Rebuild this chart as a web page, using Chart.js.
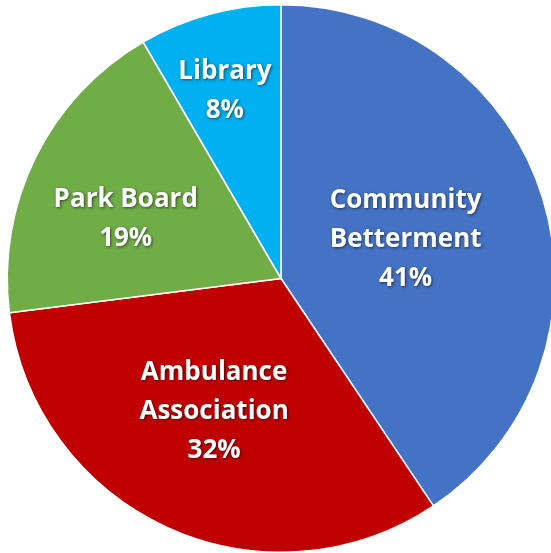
<!DOCTYPE html>
<html>
<head>
<meta charset="utf-8">
<script src="https://cdn.jsdelivr.net/npm/chart.js@4/dist/chart.umd.min.js"></script>
<style>
  html, body { margin: 0; padding: 0; background: #fff; overflow: hidden; }
  #wrap { position: absolute; left: 0; top: 0; width: 562px; height: 553px; }
</style>
</head>
<body>
<div id="wrap"><canvas id="chart"></canvas></div>
<script>
// slices, clockwise from 12 o'clock (shares read from the slice edges, labels are rounded)
const categories = [['Community', 'Betterment'], ['Ambulance', 'Association'], ['Park Board'], ['Library']];
const shares = [40.6, 32.4, 18.6, 8.4];
const sliceColors = ['#4472C4', '#C00000', '#70AD47', '#00B0F0'];

// where Excel put each label: fraction of radius and a small angle nudge (deg)
const labelRadius = [0.48, 0.535, 0.61, 0.725];
const labelNudge = [-1.6, 2.7, -4.7, -1.3];

const sliceLabels = {
    id: 'sliceLabels',
    afterDatasetsDraw(chart) {
        const ctx = chart.ctx;
        const meta = chart.getDatasetMeta(0);
        ctx.save();
        ctx.font = 'bold 26px "Open Sans"';
        ctx.fillStyle = '#fff';
        ctx.textAlign = 'center';
        ctx.textBaseline = 'middle';
        ctx.shadowColor = 'rgba(0,0,0,0.55)';
        ctx.shadowBlur = 3;
        ctx.shadowOffsetX = 1;
        ctx.shadowOffsetY = 1;
        meta.data.forEach((arc, i) => {
            const p = arc.getProps(['x', 'y', 'startAngle', 'endAngle', 'outerRadius'], true);
            const a = (p.startAngle + p.endAngle) / 2 + labelNudge[i] * Math.PI / 180;
            const r = p.outerRadius * labelRadius[i];
            const cx = p.x + Math.cos(a) * r;
            const cy = p.y + Math.sin(a) * r + 2.5;
            const lines = categories[i].concat([Math.round(shares[i]) + '%']);
            const lh = 39;
            lines.forEach((t, k) => {
                ctx.fillText(t, cx, cy + (k - (lines.length - 1) / 2) * lh);
            });
        });
        ctx.restore();
    }
};

new Chart(document.getElementById('chart'), {
    type: 'pie',
    data: {
        labels: categories.map(c => c.join(' ')),
        datasets: [{
            data: shares,
            backgroundColor: sliceColors,
            borderColor: '#fff',
            borderWidth: 1.5
        }]
    },
    options: {
        responsive: true,
        maintainAspectRatio: false,
        animation: false,
        layout: {padding: {top: 4, bottom: 0, left: 6, right: 6}},
        plugins: {
            legend: {display: false},
            tooltip: {enabled: false}
        }
    },
    plugins: [sliceLabels]
});
</script>
</body>
</html>
